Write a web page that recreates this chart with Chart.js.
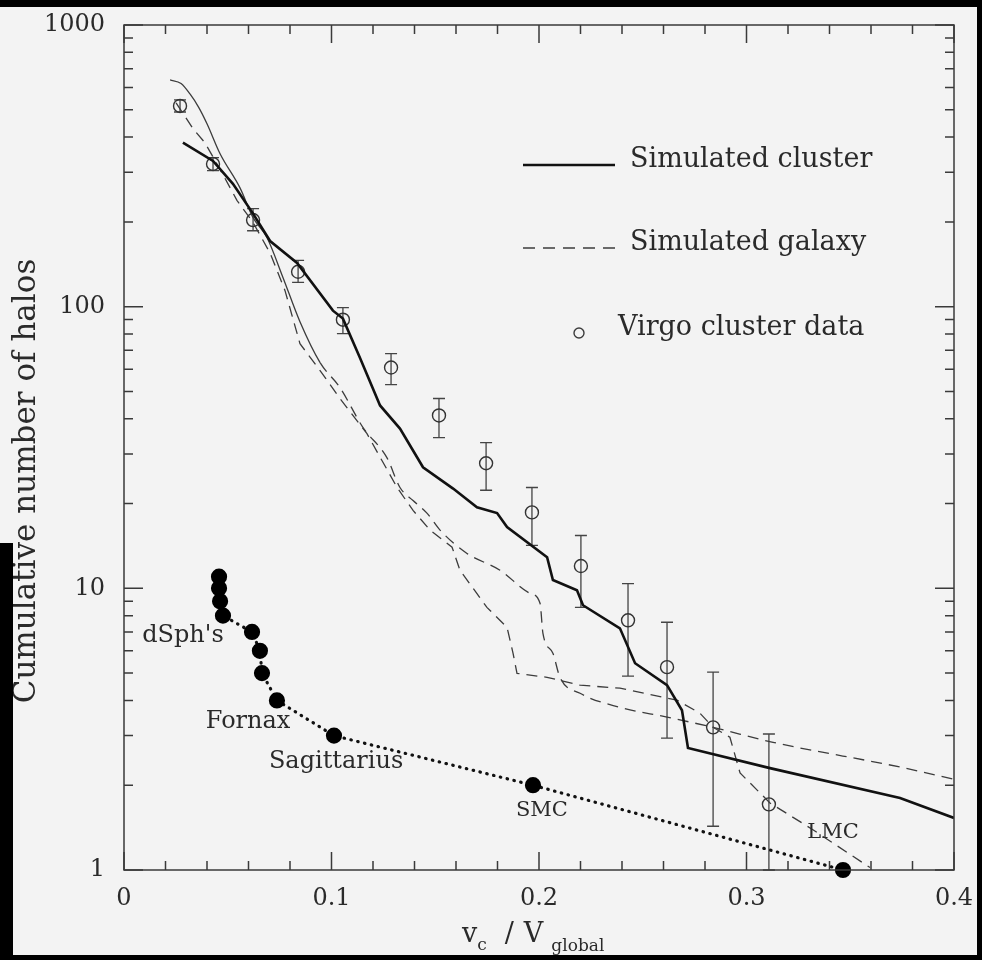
<!DOCTYPE html>
<html lang="en">
  <head>
    <meta charset="UTF-8" />
    <title>Cumulative number of halos</title>
    <style>
      body {
        margin: 0;
        background: #000;
      }
      canvas {
        display: block;
      }
    </style>
  </head>
  <body>
    <canvas id="halosChart" width="982" height="960"></canvas>

    <script src="https://cdn.jsdelivr.net/npm/chart.js"></script>
    <script>
      // Simulated cluster (thick solid line)
      const clusterX = [0.0284, 0.0429, 0.0525, 0.0622, 0.0704, 0.0834, 0.1007, 0.1055, 0.1137, 0.1234, 0.133, 0.1441, 0.1586, 0.1701, 0.1798, 0.1846, 0.2039, 0.2067, 0.2183, 0.2212, 0.239, 0.2463, 0.2617, 0.2689, 0.2718, 0.3113, 0.374, 0.4];
      const clusterY = [382, 329, 273, 214, 171, 143, 96.8, 90.7, 65.9, 44.6, 36.9, 26.9, 22.6, 19.4, 18.5, 16.5, 12.9, 10.7, 9.84, 8.71, 7.21, 5.42, 4.53, 3.69, 2.71, 2.3, 1.8, 1.53];

      // Simulated galaxies (dashed lines)
      const galaxyAX = [0.0222, 0.0275, 0.0318, 0.036, 0.04, 0.0463, 0.0559, 0.0622, 0.0689, 0.0766, 0.0848, 0.0945, 0.1041, 0.1152, 0.1267, 0.133, 0.1393, 0.146, 0.1523, 0.1653, 0.1812, 0.1957, 0.2005, 0.2019, 0.2067, 0.2101, 0.2198, 0.239, 0.2617, 0.2839, 0.3128, 0.374, 0.4];
      const galaxyAY = [638, 620, 569, 510, 446, 349, 264, 207, 176, 127, 88.4, 63.3, 51.6, 37.2, 29.1, 22.8, 20.5, 18.5, 16.1, 13.3, 11.6, 9.6, 8.85, 6.92, 5.88, 4.83, 4.24, 3.78, 3.49, 3.21, 2.84, 2.32, 2.1];
      const galaxyBX = [0.0251, 0.0333, 0.039, 0.0472, 0.0545, 0.0622, 0.0704, 0.0776, 0.0848, 0.0945, 0.1041, 0.1171, 0.1316, 0.1393, 0.1475, 0.1581, 0.1619, 0.1749, 0.1846, 0.1875, 0.1894, 0.2039, 0.2198, 0.239, 0.2665, 0.2776, 0.2839, 0.292, 0.2969, 0.3113, 0.332, 0.3595];
      const galaxyBY = [529, 428, 382, 299, 238, 199, 155, 114, 73.9, 59.3, 47.2, 35.4, 22.8, 18.9, 16.1, 14.0, 11.6, 8.56, 7.27, 5.88, 4.99, 4.83, 4.53, 4.42, 4.01, 3.6, 3.21, 2.96, 2.21, 1.73, 1.39, 1.02];

      // Virgo cluster data with error bars
      const virgoX = [0.027, 0.0429, 0.0622, 0.0839, 0.1055, 0.1287, 0.1518, 0.1745, 0.1966, 0.2202, 0.2429, 0.2617, 0.2839, 0.3108];
      const virgoY = [516, 321, 203, 133, 89.9, 60.8, 41.1, 27.8, 18.6, 12.0, 7.7, 5.25, 3.21, 1.71];
      const virgoHi = [542, 338, 223, 146, 99.2, 68.1, 47.2, 32.9, 22.8, 15.4, 10.4, 7.58, 5.04, 3.04];
      const virgoLo = [491, 304, 186, 122, 80.2, 52.9, 34.3, 22.3, 14.2, 8.56, 4.88, 2.94, 1.43, 1.0];

      // Milky Way satellites (filled dots, dotted line)
      const satX = [0.0458, 0.0458, 0.0463, 0.0477, 0.0617, 0.0655, 0.0665, 0.0737, 0.1012, 0.1971, 0.3465];
      const satY = [11, 10, 9, 8, 7, 6, 5, 4, 3, 2, 1];

      const satNames = ["dSph's", "Fornax", "Sagittarius", "SMC", "LMC"];
      const satNameX = [0.0284, 0.0598, 0.1022, 0.2014, 0.3417];
      const satNameY = [6.76, 3.35, 2.42, 1.62, 1.36];

      const xTickLabels = [0, 0.1, 0.2, 0.3, 0.4];
      const yTickLabels = [1, 10, 100, 1000];

      const SERIF = "'DejaVu Serif', serif";
      const INK = "#2a2a2a";

      const pts = (xs, ys) => xs.map((x, i) => ({ x: x, y: ys[i] }));

      // drop the label overhang so the plot box sits where the layout padding says
      const noOverhang = (s) => {
        s.paddingTop = 0;
        s.paddingBottom = 0;
        s.paddingLeft = 0;
        s.paddingRight = 0;
      };

      const paper = {
        id: "paper",
        beforeDraw(chart) {
          const ctx = chart.ctx;
          ctx.save();
          ctx.fillStyle = "#f3f3f3";
          ctx.fillRect(0, 0, chart.width, chart.height);
          ctx.restore();
        },
      };

      const errorBars = {
        id: "errorBars",
        beforeDatasetsDraw(chart) {
          const { ctx, scales } = chart;
          ctx.save();
          ctx.strokeStyle = "#444";
          ctx.lineWidth = 1.3;
          ctx.beginPath();
          virgoX.forEach((v, i) => {
            const px = scales.x.getPixelForValue(v);
            const top = scales.y.getPixelForValue(virgoHi[i]);
            const bot = scales.y.getPixelForValue(virgoLo[i]);
            ctx.moveTo(px, top);
            ctx.lineTo(px, bot);
            ctx.moveTo(px - 6, top);
            ctx.lineTo(px + 6, top);
            ctx.moveTo(px - 6, bot);
            ctx.lineTo(px + 6, bot);
          });
          ctx.stroke();
          ctx.restore();
        },
      };

      const decorations = {
        id: "decorations",
        afterDraw(chart) {
          const { ctx, chartArea: a, scales } = chart;
          const sx = scales.x;
          const sy = scales.y;
          ctx.save();

          // frame + inward ticks on all four sides
          ctx.strokeStyle = "#3a3a3a";
          ctx.lineWidth = 1.5;
          ctx.strokeRect(a.left, a.top, a.right - a.left, a.bottom - a.top);
          ctx.beginPath();
          for (let i = 0; i <= 20; i++) {
            const px = sx.getPixelForValue(i * 0.02);
            const major = i % 5 === 0;
            ctx.moveTo(px, a.bottom);
            ctx.lineTo(px, a.bottom - (major ? 18 : 9));
            ctx.moveTo(px, a.top);
            ctx.lineTo(px, a.top + (major ? 18 : 9));
          }
          for (let d = 1; d <= 100; d *= 10) {
            for (let k = 1; k <= 10; k++) {
              const py = sy.getPixelForValue(d * k);
              const major = k === 1 || k === 10;
              ctx.moveTo(a.left, py);
              ctx.lineTo(a.left + (major ? 19 : 9), py);
              ctx.moveTo(a.right, py);
              ctx.lineTo(a.right - (major ? 19 : 9), py);
            }
          }
          ctx.stroke();

          // legend
          ctx.fillStyle = INK;
          ctx.font = "27px " + SERIF;
          ctx.textBaseline = "alphabetic";
          ctx.textAlign = "left";
          ctx.strokeStyle = "#111";
          ctx.lineWidth = 2.6;
          ctx.beginPath();
          ctx.moveTo(523, 165);
          ctx.lineTo(615, 165);
          ctx.stroke();
          ctx.fillText("Simulated cluster", 630, 167);

          ctx.strokeStyle = "#3c3c3c";
          ctx.lineWidth = 1.4;
          ctx.setLineDash([12, 8]);
          ctx.beginPath();
          ctx.moveTo(523, 248);
          ctx.lineTo(615, 248);
          ctx.stroke();
          ctx.setLineDash([]);
          ctx.fillText("Simulated galaxy", 630, 250);

          ctx.beginPath();
          ctx.arc(579, 333, 5, 0, Math.PI * 2);
          ctx.stroke();
          ctx.fillText("Virgo cluster data", 618, 335);

          // satellite names
          ctx.textAlign = "center";
          ctx.textBaseline = "middle";
          satNames.forEach((name, i) => {
            ctx.font = (i >= 3 ? "21px " : "24px ") + SERIF;
            ctx.fillText(name, sx.getPixelForValue(satNameX[i]), sy.getPixelForValue(satNameY[i]));
          });

          // y axis title
          ctx.save();
          ctx.translate(27, 481);
          ctx.rotate(-Math.PI / 2);
          ctx.font = "31px " + SERIF;
          ctx.fillText("Cumulative number of halos", 0, 0);
          ctx.restore();

          // x axis title: v_c / V_global
          ctx.textAlign = "left";
          ctx.textBaseline = "alphabetic";
          let cx = 462;
          const part = (txt, size, base) => {
            ctx.font = size + "px " + SERIF;
            ctx.fillText(txt, cx, base);
            cx += ctx.measureText(txt).width;
          };
          part("v", 27, 942);
          part("c", 17, 950);
          cx += 18;
          part("/", 27, 942);
          cx += 10;
          part("V", 27, 942);
          cx += 8;
          part("global", 17, 951);

          // black scan borders
          ctx.fillStyle = "#000";
          ctx.fillRect(0, 0, chart.width, 7);
          ctx.fillRect(977, 0, 5, chart.height);
          ctx.fillRect(0, 543, 13, chart.height - 543);
          ctx.fillRect(0, 955, chart.width, 5);
          ctx.restore();
        },
      };

      const config = {
        type: "scatter",
        data: {
          datasets: [
            {
              label: "Simulated cluster",
              data: pts(clusterX, clusterY),
              showLine: true,
              borderColor: "#111",
              borderWidth: 2.6,
              pointRadius: 0,
              tension: 0,
            },
            {
              label: "Simulated galaxy",
              data: pts(galaxyAX, galaxyAY),
              showLine: true,
              borderColor: "#3c3c3c",
              borderWidth: 1.3,
              pointRadius: 0,
              cubicInterpolationMode: "monotone",
              tension: 0.4,
              segment: {
                borderDash: (c) => (c.p0.parsed.x < 0.085 ? [] : [11, 7]),
              },
            },
            {
              label: "Simulated galaxy 2",
              data: pts(galaxyBX, galaxyBY),
              showLine: true,
              borderColor: "#3c3c3c",
              borderWidth: 1.3,
              borderDash: [11, 7],
              pointRadius: 0,
            },
            {
              label: "Virgo cluster data",
              data: pts(virgoX, virgoY),
              showLine: false,
              pointRadius: 6.5,
              pointBorderWidth: 1.4,
              pointBorderColor: "#333",
              pointBackgroundColor: "rgba(0,0,0,0)",
            },
            {
              label: "Milky Way satellites",
              data: pts(satX, satY),
              showLine: true,
              borderColor: "#111",
              borderWidth: 3.2,
              borderDash: [0.5, 6.5],
              borderCapStyle: "round",
              pointRadius: 6.5,
              pointBackgroundColor: "#000",
              pointBorderColor: "#000",
              clip: false,
            },
          ],
        },
        options: {
          responsive: false,
          animation: false,
          events: [],
          layout: { padding: { top: 25, right: 28, left: 0, bottom: 0 } },
          plugins: { legend: { display: false }, tooltip: { enabled: false } },
          scales: {
            x: {
              type: "linear",
              min: 0,
              max: 0.4,
              grid: { display: false, drawTicks: false },
              border: { display: false },
              ticks: {
                stepSize: 0.1,
                padding: 14,
                color: INK,
                font: { family: SERIF, size: 24 },
                callback: (v) => {
                  const r = Math.round(v * 10) / 10;
                  return xTickLabels.includes(r) ? String(r) : "";
                },
              },
              afterFit: (s) => {
                s.height = 90;
                noOverhang(s);
              },
            },
            y: {
              type: "logarithmic",
              min: 1,
              max: 1000,
              grid: { display: false, drawTicks: false },
              border: { display: false },
              ticks: {
                autoSkip: false,
                padding: 19,
                color: INK,
                font: { family: SERIF, size: 24 },
                callback: (v) => (yTickLabels.includes(v) ? String(v) : ""),
              },
              afterFit: (s) => {
                s.width = 124;
                noOverhang(s);
              },
            },
          },
        },
        plugins: [paper, errorBars, decorations],
      };

      const halosChart = new Chart(document.getElementById("halosChart"), config);
    </script>
  </body>
</html>
